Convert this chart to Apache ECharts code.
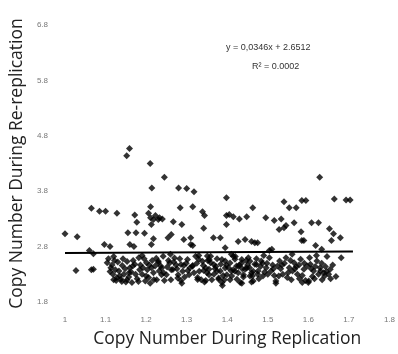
<!DOCTYPE html>
<html>
<head>
<meta charset="utf-8">
<script src="https://cdn.jsdelivr.net/npm/echarts@6/dist/echarts.min.js"></script>
<style>
  html, body { margin: 0; padding: 0; background: #fff; }
  #chart { width: 398px; height: 354px; }
</style>
</head>
<body>
<div id="chart"></div>
<script>
// tick labels
const xTicks = [1, 1.1, 1.2, 1.3, 1.4, 1.5, 1.6, 1.7, 1.8];
const xTickLabels = ['1', '1.1', '1.2', '1.3', '1.4', '1.5', '1.6', '1.7', '1.8'];
const yTicks = [1.8, 2.8, 3.8, 4.8, 5.8, 6.8];
const yTickLabels = ['1.8', '2.8', '3.8', '4.8', '5.8', '6.8'];

// sparse points above the trend line
const upperPoints = [
  [1.00, 3.03], [1.03, 2.98], [1.065, 3.49], [1.085, 3.44], [1.10, 3.44], [1.128, 3.40],
  [1.152, 4.44], [1.159, 4.57], [1.172, 3.37], [1.177, 3.24], [1.155, 3.05], [1.175, 3.05],
  [1.196, 3.04], [1.21, 4.30], [1.214, 3.86], [1.211, 3.52], [1.206, 3.40], [1.211, 3.32],
  [1.218, 3.29], [1.223, 3.36], [1.23, 3.29], [1.213, 3.20], [1.233, 3.32], [1.24, 3.30],
  [1.245, 4.05], [1.267, 3.25], [1.288, 3.20], [1.284, 3.50], [1.28, 3.86], [1.30, 3.85],
  [1.318, 3.79], [1.218, 2.94], [1.254, 2.96], [1.262, 3.02], [1.213, 2.84], [1.16, 2.84],
  [1.17, 2.80], [1.097, 2.84], [1.111, 2.80], [1.06, 2.73], [1.293, 2.93], [1.31, 2.96],
  [1.315, 2.82], [1.315, 3.52], [1.339, 3.43], [1.344, 3.36], [1.342, 3.13], [1.366, 2.96],
  [1.383, 2.96], [1.398, 3.36], [1.398, 3.68], [1.398, 3.20], [1.395, 2.78], [1.31, 2.84],
  [1.427, 2.89], [1.444, 2.93], [1.46, 2.89], [1.468, 2.87], [1.405, 3.38], [1.415, 3.34],
  [1.43, 3.30], [1.448, 3.34], [1.463, 3.50], [1.495, 3.32], [1.516, 3.27], [1.533, 3.30],
  [1.54, 3.61], [1.553, 3.50], [1.57, 3.50], [1.584, 3.63], [1.594, 3.63], [1.528, 3.11],
  [1.54, 3.14], [1.545, 3.18], [1.565, 3.23], [1.475, 2.87], [1.51, 2.75], [1.584, 2.91],
  [1.504, 2.73], [1.628, 4.05], [1.608, 3.23], [1.625, 3.23], [1.652, 3.12], [1.662, 3.03],
  [1.657, 2.91], [1.679, 2.96], [1.664, 3.66], [1.693, 3.64], [1.703, 3.64], [1.582, 3.07],
  [1.589, 2.91], [1.618, 2.82], [1.633, 2.75]
];

// dense band below the trend line
const lowerPoints = [
  [1.027, 2.37], [1.065, 2.38], [1.07, 2.39], [1.07, 2.67], [1.104, 2.51], [1.116, 2.47],
  [1.124, 2.38], [1.128, 2.24], [1.126, 2.19], [1.141, 2.46], [1.145, 2.30], [1.153, 2.20],
  [1.165, 2.15], [1.16, 2.42], [1.172, 2.48], [1.182, 2.60], [1.184, 2.38], [1.111, 2.35],
  [1.12, 2.20], [1.14, 2.17], [1.153, 2.53], [1.158, 2.33], [1.201, 2.51], [1.206, 2.24],
  [1.213, 2.42], [1.218, 2.33], [1.23, 2.51], [1.238, 2.29], [1.245, 2.19], [1.255, 2.55],
  [1.262, 2.38], [1.274, 2.47], [1.279, 2.29], [1.286, 2.19], [1.293, 2.46], [1.303, 2.37],
  [1.315, 2.46], [1.327, 2.24], [1.33, 2.57], [1.342, 2.37], [1.347, 2.19], [1.352, 2.55],
  [1.288, 2.14], [1.344, 2.16], [1.388, 2.10], [1.436, 2.14], [1.46, 2.16], [1.681, 2.60],
  [1.351, 2.63], [1.359, 2.51], [1.355, 2.39], [1.367, 2.30], [1.379, 2.21], [1.387, 2.15],
  [1.383, 2.36], [1.395, 2.54], [1.403, 2.42], [1.411, 2.27], [1.419, 2.57], [1.423, 2.45],
  [1.427, 2.33], [1.432, 2.15], [1.436, 2.51], [1.444, 2.39], [1.452, 2.60], [1.456, 2.27],
  [1.464, 2.18], [1.468, 2.48], [1.476, 2.36], [1.484, 2.54], [1.488, 2.27], [1.496, 2.42],
  [1.504, 2.60], [1.508, 2.36], [1.520, 2.18], [1.524, 2.45], [1.529, 2.54], [1.537, 2.30],
  [1.545, 2.60], [1.553, 2.42], [1.561, 2.36], [1.565, 2.51], [1.573, 2.30], [1.581, 2.57],
  [1.589, 2.39], [1.593, 2.19], [1.601, 2.18], [1.605, 2.48], [1.613, 2.36], [1.621, 2.54],
  [1.629, 2.42], [1.638, 2.33], [1.650, 2.30], [1.654, 2.39],
  [1.356, 2.56], [1.372, 2.44], [1.375, 2.58], [1.39, 2.28], [1.398, 2.47], [1.407, 2.20],
  [1.415, 2.38], [1.42, 2.62], [1.43, 2.47], [1.44, 2.25], [1.447, 2.55], [1.455, 2.42],
  [1.46, 2.33], [1.472, 2.58], [1.478, 2.22], [1.482, 2.44], [1.492, 2.34], [1.498, 2.50],
  [1.512, 2.47], [1.516, 2.28], [1.532, 2.40], [1.541, 2.50], [1.548, 2.24], [1.556, 2.55],
  [1.567, 2.40], [1.577, 2.47], [1.585, 2.28], [1.597, 2.45], [1.603, 2.60], [1.61, 2.26],
  [1.617, 2.44], [1.625, 2.30], [1.633, 2.50], [1.642, 2.44], [1.646, 2.62], [1.66, 2.47],
  [1.668, 2.26],
  [1.230, 2.535], [1.238, 2.415], [1.242, 2.625], [1.250, 2.294], [1.258, 2.505], [1.266, 2.385],
  [1.270, 2.595], [1.278, 2.234], [1.286, 2.475], [1.290, 2.355], [1.302, 2.565], [1.306, 2.294],
  [1.314, 2.445], [1.322, 2.625], [1.327, 2.204], [1.331, 2.355], [1.339, 2.535], [1.347, 2.415],
  [1.355, 2.294], [1.359, 2.625], [1.367, 2.475], [1.375, 2.355], [1.379, 2.234], [1.387, 2.565],
  [1.395, 2.415], [1.399, 2.294], [1.407, 2.505], [1.415, 2.625], [1.419, 2.355], [1.428, 2.445],
  [1.436, 2.565], [1.440, 2.294], [1.448, 2.415], [1.456, 2.535], [1.464, 2.355], [1.472, 2.475],
  [1.107, 2.58], [1.118, 2.30], [1.13, 2.52], [1.135, 2.27], [1.148, 2.40], [1.15, 2.16],
  [1.163, 2.34], [1.168, 2.55], [1.178, 2.22], [1.186, 2.47], [1.19, 2.30], [1.195, 2.58],
  [1.198, 2.18], [1.203, 2.38], [1.21, 2.14], [1.215, 2.55], [1.222, 2.45], [1.226, 2.20],
  [1.232, 2.36],
  [1.12, 2.62], [1.19, 2.64], [1.26, 2.66], [1.33, 2.64], [1.41, 2.66], [1.49, 2.64],
  [1.56, 2.66], [1.62, 2.64], [1.52, 2.14], [1.585, 2.15], [1.60, 2.15], [1.634, 2.20],
  [1.64, 2.27],
  [1.113, 2.42], [1.122, 2.55], [1.133, 2.36], [1.138, 2.21], [1.143, 2.58], [1.157, 2.25],
  [1.167, 2.45], [1.174, 2.30], [1.181, 2.17], [1.192, 2.42], [1.20, 2.27], [1.208, 2.47],
  [1.219, 2.20], [1.225, 2.59], [1.236, 2.45], [1.243, 2.33], [1.252, 2.43], [1.261, 2.20],
  [1.268, 2.52], [1.276, 2.40], [1.283, 2.58], [1.295, 2.25], [1.299, 2.50], [1.308, 2.42],
  [1.318, 2.33], [1.325, 2.50], [1.336, 2.20], [1.341, 2.46], [1.35, 2.33], [1.362, 2.20],
  [1.37, 2.40], [1.384, 2.48], [1.393, 2.20], [1.41, 2.36], [1.424, 2.21], [1.437, 2.40],
  [1.45, 2.47], [1.462, 2.27], [1.475, 2.30], [1.487, 2.50], [1.50, 2.30], [1.514, 2.40],
  [1.527, 2.27], [1.535, 2.47], [1.55, 2.33], [1.558, 2.20], [1.57, 2.44], [1.578, 2.22],
  [1.59, 2.50], [1.607, 2.40], [1.615, 2.22], [1.63, 2.36], [1.645, 2.35], [1.655, 2.22]
];

// linear trend: y = 0.0346x + 2.6512
const trendSlope = 0.0346;
const trendIntercept = 2.6512;
const trendX = [1.0, 1.71];

const chart = echarts.init(document.getElementById('chart'));

const tickLabel = {
  fontFamily: 'Liberation Sans',
  fontSize: 8,
  color: '#777'
};

chart.setOption({
  animation: false,
  backgroundColor: '#fff',
  grid: { left: 62, right: 6, top: 25, bottom: 52 },
  xAxis: {
    type: 'value',
    min: 1,
    max: 1.8,
    name: 'Copy Number During Replication',
    nameLocation: 'middle',
    nameGap: 28,
    nameTextStyle: { fontFamily: 'Open Sans', fontSize: 17.5, color: '#222' },
    axisLine: { show: false },
    axisTick: { show: false },
    splitLine: { show: false },
    axisLabel: Object.assign({
      customValues: xTicks,
      margin: 14,
      formatter: v => xTickLabels[xTicks.findIndex(t => Math.abs(t - v) < 1e-6)] || ''
    }, tickLabel)
  },
  yAxis: {
    type: 'value',
    min: 1.8,
    max: 6.8,
    name: 'Copy Number During Re-replication',
    nameLocation: 'middle',
    nameGap: 36,
    nameTextStyle: { fontFamily: 'Open Sans', fontSize: 17.5, color: '#222' },
    axisLine: { show: false },
    axisTick: { show: false },
    splitLine: { show: false },
    axisLabel: Object.assign({
      customValues: yTicks,
      margin: 17,
      formatter: v => yTickLabels[yTicks.findIndex(t => Math.abs(t - v) < 1e-6)] || ''
    }, tickLabel)
  },
  series: [
    {
      type: 'scatter',
      symbol: 'diamond',
      symbolSize: 7,
      itemStyle: { color: '#000' },
      data: upperPoints.concat(lowerPoints)
    },
    {
      type: 'line',
      symbol: 'none',
      lineStyle: { color: '#000', width: 2 },
      data: trendX.map(x => [x, trendSlope * x + trendIntercept]),
      z: 3
    }
  ],
  graphic: [
    {
      type: 'text',
      left: 226,
      top: 43,
      style: { text: 'y = 0,0346x + 2.6512', fontFamily: 'Liberation Sans', fontSize: 9, fill: '#333' }
    },
    {
      type: 'text',
      left: 252,
      top: 62,
      style: { text: 'R\u00b2 = 0.0002', fontFamily: 'Liberation Sans', fontSize: 9, fill: '#333' }
    }
  ]
});
</script>
</body>
</html>
